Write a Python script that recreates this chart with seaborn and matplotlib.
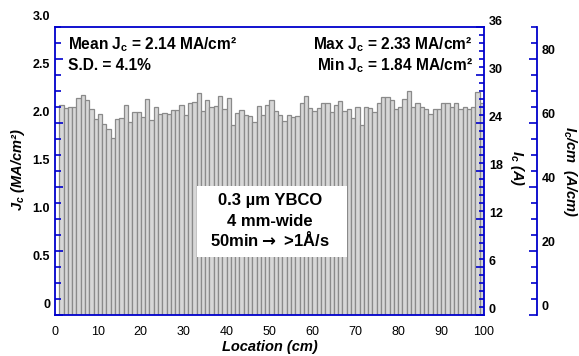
import matplotlib
matplotlib.use("Agg")
import matplotlib.pyplot as plt
import matplotlib.transforms as mtransforms
from matplotlib.patches import Rectangle
from matplotlib.ticker import FixedLocator, MultipleLocator
import pandas as pd
import seaborn as sns

# Critical current density along the tape, one reading per cm
location_cm = list(range(1, 100))
jc_values = [
    2.19, 2.16, 2.17, 2.17, 2.26, 2.29, 2.24, 2.15, 2.04, 2.09,
    1.99, 1.94, 1.84, 2.04, 2.05, 2.19, 2.01, 2.11, 2.11, 2.06,
    2.25, 2.03, 2.17, 2.09, 2.10, 2.09, 2.14, 2.14, 2.19, 2.08,
    2.21, 2.22, 2.31, 2.13, 2.24, 2.17, 2.18, 2.28, 2.15, 2.26,
    1.98, 2.10, 2.14, 2.08, 2.07, 2.01, 2.18, 2.08, 2.19, 2.24,
    2.13, 2.08, 2.02, 2.08, 2.06, 2.07, 2.21, 2.28, 2.16, 2.12,
    2.16, 2.21, 2.21, 2.11, 2.19, 2.23, 2.12, 2.15, 2.05, 2.17,
    1.98, 2.17, 2.16, 2.11, 2.21, 2.27, 2.27, 2.24, 2.15, 2.17,
    2.25, 2.33, 2.17, 2.21, 2.17, 2.15, 2.09, 2.15, 2.15, 2.21,
    2.21, 2.17, 2.21, 2.15, 2.17, 2.15, 2.17, 2.32, 2.21,
]

x_ticks = [0, 10, 20, 30, 40, 50, 60, 70, 80, 90, 100]
jc_ticks = [0, 0.5, 1.0, 1.5, 2.0, 2.5, 3.0]
jc_tick_labels = ["0", "0.5", "1.0", "1.5", "2.0", "2.5", "3.0"]
ic_ticks = [0, 6, 12, 18, 24, 30, 36]
icw_ticks = [0, 20, 40, 60, 80]

stats_left = ["Mean J$_\\mathregular{c}$ = 2.14 MA/cm²", "S.D. = 4.1%"]
stats_right = ["Max J$_\\mathregular{c}$ = 2.33 MA/cm²", "Min J$_\\mathregular{c}$ = 1.84 MA/cm²"]
sample_lines = ["0.3 µm YBCO", "4 mm-wide", "50min$\\mathbf{\\rightarrow}$ >1Å/s"]

# 4 mm wide x 0.3 um film: 1 MA/cm² -> 12 A, width 0.4 cm
JC_TO_IC = 12.0
TAPE_WIDTH_CM = 0.4

BLUE = "#0000cc"
W_PX, H_PX = 579, 356

sns.set_style("white")
plt.rcParams["font.family"] = ["Liberation Sans", "DejaVu Sans"]
plt.rcParams["font.weight"] = "bold"
for key in ("text.color", "axes.labelcolor", "xtick.color", "ytick.color"):
    plt.rcParams[key] = "black"

fig = plt.figure(figsize=(W_PX / 100, H_PX / 100), dpi=100)
left, right, top, bottom = 55, 484, 27, 315
ax = fig.add_axes([left / W_PX, 1 - bottom / H_PX,
                   (right - left) / W_PX, (bottom - top) / H_PX])

df = pd.DataFrame({"location": [v + 0.5 for v in location_cm], "jc": jc_values})
sns.barplot(data=df, x="location", y="jc", native_scale=True, width=1.0,
            color="#d7d7d7", saturation=1, edgecolor="#8a8a8a",
            linewidth=0.9, errorbar=None, ax=ax)

ax.set_xlim(0, 100)
ax.set_ylim(0, 3.0)
ax.set_xlabel("")
ax.set_ylabel("")
for s in ax.spines.values():
    s.set_color(BLUE)
    s.set_linewidth(1.3)
    s.set_visible(True)
ax.set_xticks(x_ticks)
ax.set_xticklabels([str(t) for t in x_ticks], fontsize=9, fontweight="normal",
                   color="black")
ax.tick_params(axis="x", length=0, pad=8)
ax.set_yticks([])

# Jc labels sit slightly above their values
jc_trans = mtransforms.offset_copy(ax.get_yaxis_transform(), fig=fig, x=-5, y=10, units="dots")
for v, lab in zip(jc_ticks, jc_tick_labels):
    ax.text(0, v, lab, transform=jc_trans, ha="right", va="center",
            fontsize=9, fontweight="bold", color="black")

# tick marks on the left spine, per-width current scale
ax_lt = ax.twinx()
ax_lt.set_ylim(0, 3.0 * JC_TO_IC / TAPE_WIDTH_CM)
ax_lt.yaxis.tick_left()
ax_lt.yaxis.set_major_locator(FixedLocator(icw_ticks))
ax_lt.yaxis.set_minor_locator(MultipleLocator(5))
ax_lt.tick_params(axis="y", which="major", direction="in", length=6, width=1.2,
                  color=BLUE, labelleft=False, labelright=False)
ax_lt.tick_params(axis="y", which="minor", direction="in", length=4, width=1.2,
                  color=BLUE)
for s in ax_lt.spines.values():
    s.set_visible(False)
ax_lt.patch.set_visible(False)

# Ic axis on the right spine
ax_ic = ax.twinx()
ax_ic.set_ylim(0, 3.0 * JC_TO_IC)
ax_ic.yaxis.set_major_locator(FixedLocator(ic_ticks))
ax_ic.yaxis.set_minor_locator(MultipleLocator(1))
ax_ic.tick_params(axis="y", which="major", direction="in", length=6, width=1.2,
                  color=BLUE, labelright=False)
ax_ic.tick_params(axis="y", which="minor", direction="in", length=3.5, width=1.2,
                  color=BLUE)
for s in ax_ic.spines.values():
    s.set_visible(False)
ax_ic.patch.set_visible(False)
ic_trans = mtransforms.offset_copy(ax_ic.get_yaxis_transform(), fig=fig, x=5, y=5, units="dots")
for v in ic_ticks:
    ax_ic.text(1, v, str(v), transform=ic_trans, ha="left", va="center",
               fontsize=9, fontweight="bold", color="black")

# Ic per cm width axis, offset to the right
ax_icw = ax.twinx()
ax_icw.set_ylim(0, 3.0 * JC_TO_IC / TAPE_WIDTH_CM)
icw_pos = (537 - left) / (right - left)
ax_icw.spines["right"].set_position(("axes", icw_pos))
ax_icw.yaxis.set_major_locator(FixedLocator(icw_ticks))
ax_icw.yaxis.set_minor_locator(MultipleLocator(5))
ax_icw.tick_params(axis="y", which="major", direction="in", length=6, width=1.2,
                   color=BLUE, labelright=False)
ax_icw.tick_params(axis="y", which="minor", direction="in", length=4, width=1.2,
                   color=BLUE)
for name, s in ax_icw.spines.items():
    s.set_visible(name == "right")
ax_icw.spines["right"].set_color(BLUE)
ax_icw.spines["right"].set_linewidth(1.3)
ax_icw.patch.set_visible(False)
icw_trans = mtransforms.offset_copy(ax_icw.get_yaxis_transform(), fig=fig, x=5, y=8, units="dots")
for v in icw_ticks:
    ax_icw.text(icw_pos, v, str(v), transform=icw_trans,
                ha="left", va="center", fontsize=9, fontweight="bold", color="black")


def fx(px):
    return px / W_PX


def fy(py):
    return 1 - py / H_PX


# axis titles
fig.text(fx(18), fy(170), "J$_\\mathregular{c}$ (MA/cm²)", rotation=90,
         ha="center", va="center", fontsize=10.5, fontweight="bold", fontstyle="italic")
fig.text(fx(517), fy(168), "I$_\\mathregular{c}$ (A)", rotation=270,
         ha="center", va="center", fontsize=10.5, fontweight="bold", fontstyle="italic")
fig.text(fx(570), fy(171), "I$_\\mathregular{c}$/cm  (A/cm)", rotation=270,
         ha="center", va="center", fontsize=10.5, fontweight="bold", fontstyle="italic")
fig.text(fx(270), fy(347), "Location (cm)", ha="center", va="center",
         fontsize=10.5, fontweight="bold", fontstyle="italic")

# statistics
for txt, base in zip(stats_left, [49, 70]):
    fig.text(fx(68), fy(base), txt, ha="left", va="baseline",
             fontsize=11.2, fontweight="bold")
for txt, base in zip(stats_right, [49, 70]):
    fig.text(fx(473), fy(base), txt, ha="right", va="baseline",
             fontsize=11.2, fontweight="bold")

# sample description box
fig.add_artist(Rectangle((fx(197), fy(257)), (347 - 197) / W_PX, (257 - 186) / H_PX,
                         transform=fig.transFigure, facecolor="white",
                         edgecolor="none", zorder=3))
for txt, yc in zip(sample_lines, [201, 221, 240]):
    fig.text(fx(270), fy(yc), txt, ha="center", va="center",
             fontsize=12, fontweight="bold", zorder=4)

fig.savefig("out.png", dpi=100)
